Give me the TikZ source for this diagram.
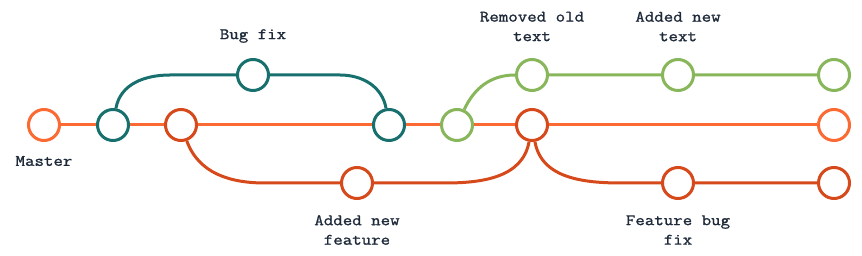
\documentclass[tikz,border=0pt]{standalone}
\usepackage{fontspec}
\setmonofont[FakeStretch=1.15,FakeBold=1.2]{Latin Modern Mono}
\usepackage{tikz}
\usetikzlibrary{positioning,calc}
\definecolor{master}{HTML}{FA6A32}
\definecolor{bugfix}{HTML}{17706E}
\definecolor{feature}{HTML}{D6491B}
\definecolor{newtext}{HTML}{88B65A}
\definecolor{tinta}{HTML}{1E2A3A}
\begin{document}
\begin{tikzpicture}[x=1pt,y=1pt,line width=3pt,
          commit/.style={draw,circle,minimum size=31pt,inner sep=0pt,fill=white},
          nota/.style={align=center,inner sep=0pt,text=tinta,font=\ttfamily\fontsize{16}{19.5}\selectfont}]
        \useasboundingbox (0,0) rectangle (862,256);
        % fila del medio
        \node[commit,draw=master] (m0) at (44,131) {};
        \node[commit,draw=bugfix] (b1) at (113,131) {};
        \node[commit,draw=feature] (f1) at (181,131) {};
        \node[commit,draw=bugfix] (b3) at (389,131) {};
        \node[commit,draw=newtext] (n1) at (457,131) {};
        \node[commit,draw=feature] (f2) at (532,131) {};
        \node[commit,draw=master] (m1) at (834,131) {};
        % fila de arriba
        \node[commit,draw=bugfix] (b2) at (253,181) {};
        \node[commit,draw=newtext] (n2) at (532,181) {};
        \node[commit,draw=newtext] (n3) at (678,181) {};
        \node[commit,draw=newtext] (n4) at (834,181) {};
        % fila de abajo
        \node[commit,draw=feature] (f3) at (357,73) {};
        \node[commit,draw=feature] (f4) at (678,73) {};
        \node[commit,draw=feature] (f5) at (834,73) {};
        % codos de las curvas
        \coordinate (bl) at (170,181);
        \coordinate (br) at (340,181);
        \coordinate (fl) at (265,73);
        \coordinate (fr) at (445,73);
        \coordinate (gl) at (622,73);
        \draw[master] (m0) -- (b1) -- (f1) -- (b3) -- (n1) -- (f2) -- (m1);
        \draw[bugfix] (b1) to[out=80,in=180] (bl) -- (b2) -- (br) to[out=0,in=100] (b3);
        \draw[feature] (f1) to[out=-70,in=180] (fl) -- (f3) -- (fr) to[out=0,in=-100] (f2);
        \draw[feature] (f2) to[out=-80,in=180] (gl) -- (f4) -- (f5);
        \draw[newtext] (n1) to[out=65,in=180] (n2) -- (n3) -- (n4);
        \node[nota] (tmaster) at (44,95) {Master};
        \node[nota] (tbug) at (253,220) {Bug fix};
        \node[nota] (tfeat) at (357,26) {Added new\\feature};
        \node[nota] (tremoved) at (532,229.5) {Removed old\\text};
        \node[nota] (tadded) at (678,229.5) {Added new\\text};
        \node[nota] (tfix) at (678,26) {Feature bug\\fix};
      \end{tikzpicture}
\end{document}
